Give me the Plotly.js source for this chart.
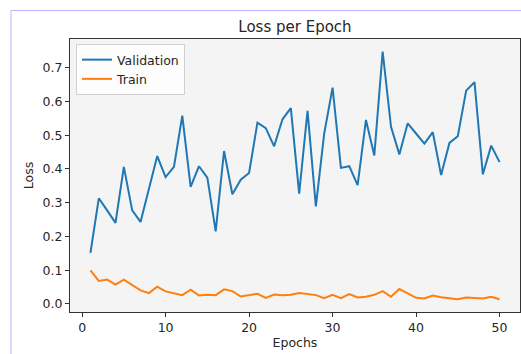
<!DOCTYPE html>
<html>
<head>
<meta charset="utf-8">
<script src="https://cdn.plot.ly/plotly-3.0.1.min.js"></script>
<style>html,body{margin:0;padding:0;background:#fff;}#chart{width:521px;height:354px;}</style>
</head>
<body>
<div id="chart"></div>
<script>
const epochs = [1,2,3,4,5,6,7,8,9,10,11,12,13,14,15,16,17,18,19,20,21,22,23,24,25,26,27,28,29,30,31,32,33,34,35,36,37,38,39,40,41,42,43,44,45,46,47,48,49,50];
const validationLoss = [0.151,0.313,0.277,0.240,0.406,0.277,0.243,0.341,0.438,0.376,0.406,0.558,0.347,0.408,0.374,0.215,0.453,0.325,0.368,0.388,0.537,0.521,0.467,0.547,0.580,0.327,0.572,0.289,0.505,0.641,0.403,0.408,0.352,0.545,0.440,0.748,0.525,0.443,0.535,0.505,0.475,0.509,0.382,0.477,0.497,0.632,0.657,0.384,0.469,0.420];
const trainLoss = [0.099,0.068,0.072,0.057,0.072,0.055,0.040,0.032,0.051,0.037,0.031,0.026,0.042,0.025,0.027,0.026,0.043,0.038,0.022,0.025,0.030,0.018,0.028,0.026,0.027,0.032,0.028,0.026,0.017,0.027,0.017,0.029,0.019,0.021,0.027,0.038,0.021,0.044,0.031,0.018,0.016,0.025,0.020,0.016,0.014,0.019,0.017,0.016,0.021,0.014];
const seriesNames = ["Validation","Train"];
const xTicks = [0,10,20,30,40,50];
const yTicks = [0.0,0.1,0.2,0.3,0.4,0.5,0.6,0.7];

const font = {family: "DejaVu Sans", size: 12.5, color: "#262626"};
const traces = [
  {x: epochs, y: validationLoss, name: seriesNames[0], type: "scatter", mode: "lines",
   line: {color: "#1f77b4", width: 2}},
  {x: epochs, y: trainLoss, name: seriesNames[1], type: "scatter", mode: "lines",
   line: {color: "#ff7f0e", width: 2}}
];
const pw = 450, ph = 273;
const layout = {
  width: 521, height: 354,
  margin: {l: 70, r: 1, t: 39, b: 42, pad: 0},
  paper_bgcolor: "#ffffff",
  plot_bgcolor: "#f4f4f4",
  font: font,
  showlegend: true,
  title: {text: "Loss per Epoch", font: {family: "DejaVu Sans", size: 15, color: "#262626"},
          x: 0.5, xref: "paper", xanchor: "center", y: 1 - 27/354, yanchor: "middle"},
  xaxis: {
    range: [-1.45, 52.45], tickvals: xTicks, ticktext: xTicks.map(String),
    showgrid: false, zeroline: false, showline: true, linecolor: "#333333", linewidth: 1, mirror: true,
    ticks: "outside", ticklen: 4, tickcolor: "#333333", tickwidth: 1,
    tickfont: font,
    title: {text: "Epochs", font: font, standoff: 4}
  },
  yaxis: {
    range: [-0.024, 0.785], tickvals: yTicks, ticktext: yTicks.map(v => v.toFixed(1)),
    showgrid: false, zeroline: false, showline: true, linecolor: "#333333", linewidth: 1, mirror: true,
    ticks: "outside", ticklen: 4, tickcolor: "#333333", tickwidth: 1,
    tickfont: font,
    title: {text: "Loss", font: font, standoff: 6}
  },
  legend: {
    x: 6/pw, y: 1 - 5/ph, xanchor: "left", yanchor: "top",
    bgcolor: "rgba(255,255,255,0.8)", bordercolor: "#d0d0d0", borderwidth: 1,
    font: {family: "DejaVu Sans", size: 12.5, color: "#262626"},
    tracegroupgap: 0, itemwidth: 30
  },
  shapes: [
    {type: "line", xref: "paper", yref: "paper", x0: (11-70)/pw, x1: (11-70)/pw,
     y0: 1 + (39-10.5)/ph, y1: -42/ph, line: {color: "#b4b4ff", width: 1}},
    {type: "line", xref: "paper", yref: "paper", x0: (11-70)/pw, x1: (521-70)/pw,
     y0: 1 + (39-10.5)/ph, y1: 1 + (39-10.5)/ph, line: {color: "#b4b4ff", width: 1}}
  ]
};
Plotly.newPlot("chart", traces, layout, {displayModeBar: false, staticPlot: true});
</script>
</body>
</html>
